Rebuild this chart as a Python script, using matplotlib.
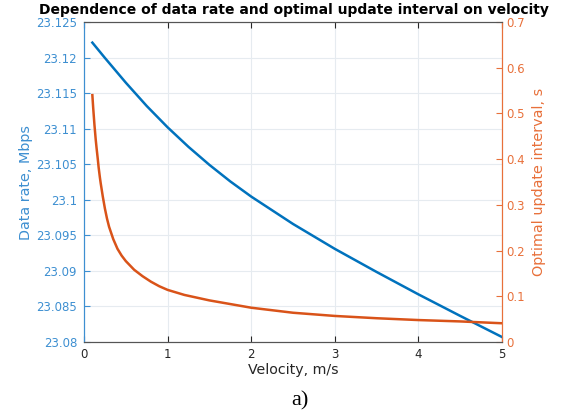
import matplotlib
matplotlib.use("Agg")
import matplotlib.pyplot as plt
import numpy as np

velocity_rate = [0.1, 0.25, 0.5, 0.75, 1.0, 1.25, 1.5, 1.75, 2.0, 2.5, 3.0, 3.5, 4.0, 4.5, 5.0]
data_rate = [23.1221, 23.11995, 23.11647, 23.11319, 23.11019, 23.10744, 23.10491, 23.10258,
             23.10045, 23.0966, 23.0931, 23.08985, 23.0867, 23.08367, 23.0807]

velocity_int = [0.1, 0.11, 0.125, 0.14, 0.15, 0.165, 0.175, 0.19, 0.2, 0.225, 0.25, 0.275,
                0.3, 0.35, 0.4, 0.45, 0.5, 0.6, 0.7, 0.8, 0.9,
                1.0, 1.2, 1.5, 2.0, 2.5, 3.0, 3.5, 4.0, 4.5, 5.0]
update_interval = [0.540, 0.512, 0.475, 0.443, 0.425, 0.400, 0.382, 0.360, 0.347, 0.318,
                   0.292, 0.270, 0.252, 0.225, 0.204, 0.189, 0.177, 0.158,
                   0.144, 0.132, 0.122, 0.114, 0.103, 0.091, 0.075, 0.064, 0.057, 0.052,
                   0.048, 0.045, 0.041]

xticks = [0, 1, 2, 3, 4, 5]
left_ticks = [23.08, 23.085, 23.09, 23.095, 23.1, 23.105, 23.11, 23.115, 23.12, 23.125]
left_ticklabels = ["23.08", "23.085", "23.09", "23.095", "23.1", "23.105", "23.11",
                   "23.115", "23.12", "23.125"]
right_ticks = [0, 0.1, 0.2, 0.3, 0.4, 0.5, 0.6, 0.7]
right_ticklabels = ["0", "0.1", "0.2", "0.3", "0.4", "0.5", "0.6", "0.7"]

blue = "#0072BD"
orange = "#D95319"
blue_txt = "#3d8fd1"
orange_txt = "#e8703a"

plt.rcParams['font.family'] = ['DejaVu Sans']
fig = plt.figure(figsize=(5.71, 4.19), dpi=100)
ax = fig.add_axes([84/571, 77/419, 418/571, 320/419])
ax2 = ax.twinx()

ax.plot(velocity_rate, data_rate, color=blue, lw=1.8)
ax2.plot(velocity_int, update_interval, color=orange, lw=1.8)

ax.set_xlim(0, 5)
ax.set_ylim(23.08, 23.125)
ax2.set_ylim(0, 0.7)
ax.set_xticks(xticks)
ax.set_xticklabels([str(t) for t in xticks])
ax.set_yticks(left_ticks)
ax.set_yticklabels(left_ticklabels)
ax2.set_yticks(right_ticks)
ax2.set_yticklabels(right_ticklabels)

ax.grid(True, color="#e6ebf0", lw=0.8)
ax.set_axisbelow(True)

ax.tick_params(axis='x', direction='in', top=True, length=4, labelsize=8.5,
               colors="#262626", pad=4)
ax.tick_params(axis='y', direction='in', length=4, labelsize=8.5,
               colors=blue_txt, pad=5)
ax2.tick_params(axis='y', direction='in', length=4, labelsize=8.5,
                colors=orange_txt, pad=3)

for a in (ax, ax2):
    a.spines['top'].set_color("#555555")
    a.spines['bottom'].set_color("#555555")
    a.spines['left'].set_color(blue_txt)
    a.spines['right'].set_color(orange_txt)
    for s in a.spines.values():
        s.set_linewidth(0.8)

ax.set_xlabel("Velocity, m/s", fontsize=10.2, color="#262626", labelpad=2)
ax.set_ylabel("Data rate, Mbps", fontsize=10.4, color=blue_txt, labelpad=2)
ax2.set_ylabel("Optimal update interval, s", fontsize=10.4, color=orange_txt, labelpad=5)
fig.text(294/571, 1 - 10/419,
         "Dependence of data rate and optimal update interval on velocity",
         ha='center', va='center', fontsize=10, fontweight='bold')

fig.text(300/571, 1 - 401/419, "a)", ha='center', va='center', fontsize=16,
         family=['Liberation Serif', 'DejaVu Serif'])

fig.savefig("out.png", dpi=100)
